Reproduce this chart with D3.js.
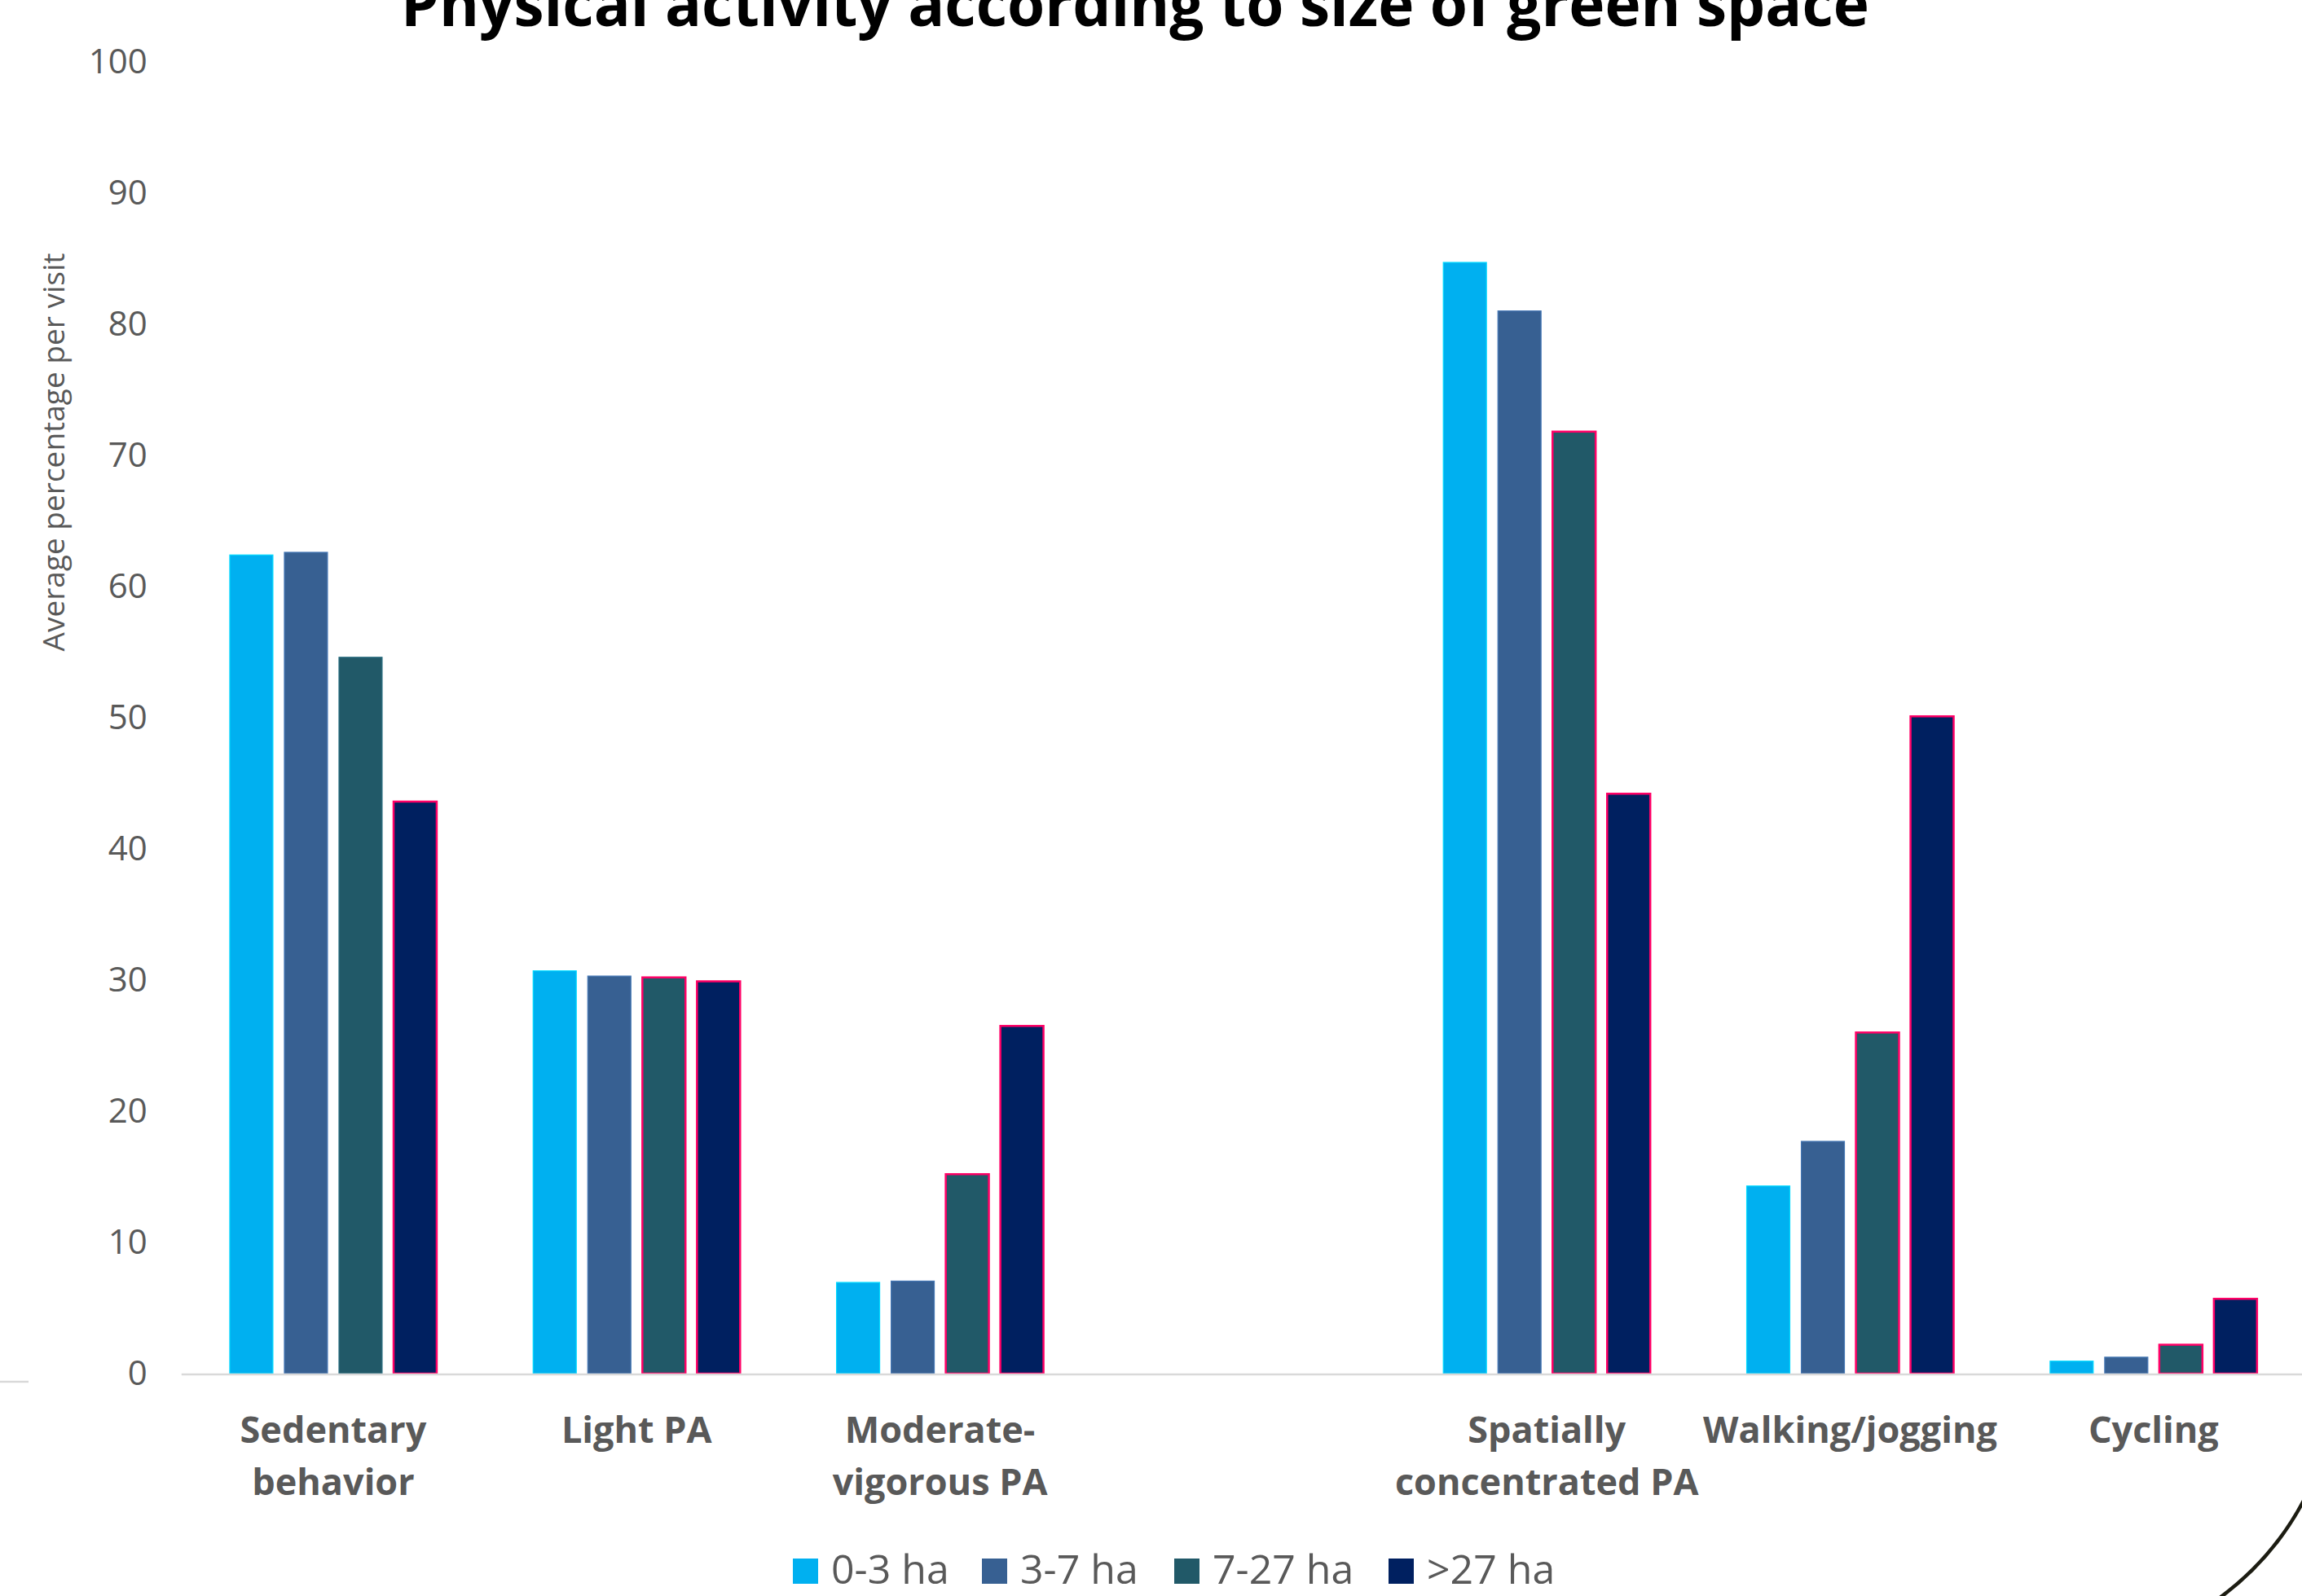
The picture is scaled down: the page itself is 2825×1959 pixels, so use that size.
<!DOCTYPE html>
<html>
<head>
<meta charset="utf-8">
<script src="https://cdn.jsdelivr.net/npm/d3@7"></script>
<style>
  html, body { margin: 0; padding: 0; background: #ffffff; }
  svg { display: block; }
</style>
</head>
<body>
<script>
// Physical activity per visit, grouped by activity type and size of green space.
const categories = ["Sedentary behavior", "Light PA", "Moderate-vigorous PA", "", "Spatially concentrated PA", "Walking/jogging", "Cycling"];
const categoryLines = [["Sedentary", "behavior"], ["Light PA"], ["Moderate-", "vigorous PA"], [], ["Spatially", "concentrated PA"], ["Walking/jogging"], ["Cycling"]];
const seriesNames = ["0-3 ha", "3-7 ha", "7-27 ha", ">27 ha"];

const size0to3 = [62.4, 30.7, 6.95, null, 84.7, 14.3, 0.95];
const size3to7 = [62.6, 30.3, 7.05, null, 81.0, 17.7, 1.25];
const size7to27 = [54.6, 30.2, 15.2, null, 71.8, 26.0, 2.2];
const sizeOver27 = [43.6, 29.9, 26.5, null, 44.2, 50.1, 5.7];

// bars marked with an outline
const marked0to3 = [false, false, false, false, false, false, false];
const marked3to7 = [false, false, false, false, false, false, false];
const marked7to27 = [false, true, true, false, true, true, true];
const markedOver27 = [true, true, true, false, true, true, true];

const yTicks = [0, 10, 20, 30, 40, 50, 60, 70, 80, 90, 100];

const seriesValues = [size0to3, size3to7, size7to27, sizeOver27];
const seriesMarked = [marked0to3, marked3to7, marked7to27, markedOver27];
const colors = ["#00B0F0", "#376092", "#215968", "#002060"];
const outlineColor = "#FF0066";
const textColor = "#595959";

const W = 2825, H = 1959;
const svg = d3.select("body").append("svg").attr("width", W).attr("height", H);
svg.append("rect").attr("width", W).attr("height", H).attr("fill", "#ffffff");

const plotLeft = 222.8, plotRight = 2829, plotTop = 75.7, plotBottom = 1686;

const x0 = d3.scaleBand().domain(d3.range(categories.length)).range([plotLeft, plotRight]).padding(0);
const x1 = d3.scaleBand().domain(d3.range(seriesNames.length)).range([0, x0.bandwidth()])
  .paddingInner(0.21).paddingOuter(0.883);
const y = d3.scaleLinear().domain([0, 100]).range([plotBottom, plotTop]);

// title
const title = svg.append("text")
  .attr("x", 1393).attr("y", 32)
  .attr("text-anchor", "middle")
  .attr("font-family", "'Open Sans', sans-serif")
  .attr("font-weight", 700)
  .attr("font-size", 64)
  .attr("fill", "#000000")
  .text("Physical activity according to size of green space");
const tl = title.node().getComputedTextLength();
title.attr("font-size", 64 * 1802 / tl);

// y axis labels
const yAxis = svg.append("g")
  .attr("transform", `translate(${plotLeft},0)`)
  .call(d3.axisLeft(y).tickValues(yTicks).tickSize(0).tickPadding(42).tickFormat(d3.format("d")));
yAxis.select(".domain").remove();
yAxis.selectAll("text")
  .attr("font-family", "'Open Sans', sans-serif")
  .attr("font-size", 42)
  .attr("fill", textColor);

// y axis title
svg.append("text")
  .attr("transform", "translate(79,555) rotate(-90)")
  .attr("text-anchor", "middle")
  .attr("font-family", "'Open Sans', sans-serif")
  .attr("font-size", 37)
  .attr("fill", textColor)
  .text("Average percentage per visit");

// bars
const barData = [];
categories.forEach((c, ci) => {
  seriesValues.forEach((vals, si) => {
    if (vals[ci] !== null) barData.push({ ci, si, v: vals[ci], marked: seriesMarked[si][ci] });
  });
});

svg.append("g").selectAll("rect").data(barData).join("rect")
  .attr("x", d => x0(d.ci) + x1(d.si))
  .attr("width", x1.bandwidth())
  .attr("y", d => y(d.v))
  .attr("height", d => y(0) - y(d.v))
  .attr("fill", d => colors[d.si])
  .attr("stroke", d => d.marked ? outlineColor : d3.color(colors[d.si]).brighter(0.6))
  .attr("stroke-width", d => d.marked ? 2.5 : 1.2);

// baseline
svg.append("line")
  .attr("x1", plotLeft).attr("x2", W)
  .attr("y1", plotBottom + 1).attr("y2", plotBottom + 1)
  .attr("stroke", "#D9D9D9").attr("stroke-width", 2.5);

svg.append("line")
  .attr("x1", 0).attr("x2", 35)
  .attr("y1", 1696).attr("y2", 1696)
  .attr("stroke", "#D9D9D9").attr("stroke-width", 2.5);

// category labels
const xLabels = svg.append("g");
categories.forEach((c, ci) => {
  const t = xLabels.append("text")
    .attr("text-anchor", "middle")
    .attr("font-family", "'Open Sans', sans-serif")
    .attr("font-weight", 700)
    .attr("font-size", 45)
    .attr("fill", textColor);
  categoryLines[ci].forEach((line, li) => {
    t.append("tspan")
      .attr("x", x0(ci) + x0.bandwidth() / 2)
      .attr("y", 1771 + li * 64)
      .text(line);
  });
});

// legend
const legendX = [973, 1205, 1441, 1704];
const legend = svg.append("g");
seriesNames.forEach((name, i) => {
  legend.append("rect")
    .attr("x", legendX[i]).attr("y", 1913)
    .attr("width", 31).attr("height", 31)
    .attr("fill", colors[i]);
  legend.append("text")
    .attr("x", legendX[i] + 47).attr("y", 1944)
    .attr("font-family", "'Open Sans', sans-serif")
    .attr("font-size", 50)
    .attr("fill", textColor)
    .text(name);
});

// corner arc
svg.append("path")
  .attr("d", "M2723,1962 Q2790,1913 2828,1840")
  .attr("fill", "none")
  .attr("stroke", "#1c1c12")
  .attr("stroke-width", 4.5);
</script>
</body>
</html>
